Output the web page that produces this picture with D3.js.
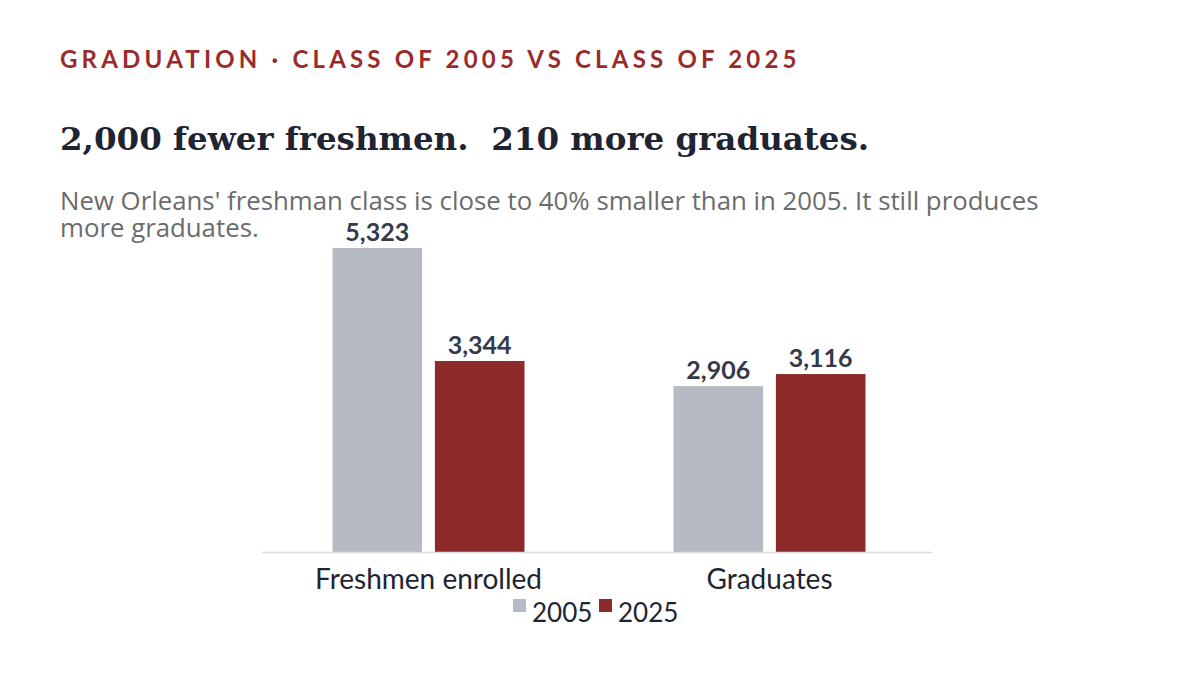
<!DOCTYPE html>
<html>
<head>
<meta charset="utf-8">
<script src="https://cdn.jsdelivr.net/npm/d3@7"></script>
<style>
  body { margin: 0; background: #fff; }
  svg { display: block; }
</style>
</head>
<body>
<svg id="chart" width="1200" height="675"></svg>
<script>
// data
var categories = ['Freshmen enrolled', 'Graduates'];
var years = ['2005', '2025'];
var values2005 = [5323, 2906];
var values2025 = [3344, 3116];
var colors = ['#b6bac3', '#8e2a2a'];

var svg = d3.select('#chart');

// header texts
svg.append('text')
   .attr('x', 60).attr('y', 68)
   .style('font-family', 'Lato, "Open Sans", sans-serif')
   .style('font-weight', 700)
   .style('font-size', '24px')
   .style('letter-spacing', '4.2px')
   .style('fill', '#9a2b2b')
   .text('GRADUATION \u00b7 CLASS OF 2005 VS CLASS OF 2025');

svg.append('text')
   .attr('x', 60).attr('y', 150)
   .style('font-family', '"DejaVu Serif", serif')
   .style('font-weight', 700)
   .style('font-size', '32.5px')
   .style('fill', '#1f2433')
   .text('2,000 fewer freshmen.\u00a0 210 more graduates.');

// subtitle, two lines as in the reference
var subLines = ["New Orleans' freshman class is close to 40% smaller than in 2005. It still produces",
                'more graduates.'];
svg.selectAll('text.sub')
   .data(subLines)
   .enter()
   .append('text')
   .attr('class', 'sub')
   .attr('x', 60)
   .attr('y', function(d, i){ return 210 + i * 27; })
   .style('font-family', '"Open Sans", sans-serif')
   .style('font-size', '25.8px')
   .style('fill', '#6b6b6b')
   .text(function(d){ return d; });

// chart
var baseY = 552;
var rows = categories.map(function(c, i){
  return {cat: c, vals: [values2005[i], values2025[i]]};
});

var x0 = d3.scaleBand()
           .domain(categories)
           .range([258, 940])
           .paddingInner(0)
           .paddingOuter(0);

var x1 = d3.scaleBand()
           .domain(years)
           .range([0, 192])
           .paddingInner(0.125);

var y = d3.scaleLinear()
          .domain([0, d3.max(values2005.concat(values2025))])
          .range([baseY, 248]);

var groups = svg.selectAll('g.group')
   .data(rows)
   .enter()
   .append('g')
   .attr('class', 'group')
   .attr('transform', function(d){
     return 'translate(' + (x0(d.cat) + x0.bandwidth()/2 - 96) + ',0)';
   });

groups.selectAll('rect')
   .data(function(d){ return d.vals.map(function(v, j){ return {year: years[j], v: v, j: j}; }); })
   .enter()
   .append('rect')
   .attr('x', function(d){ return x1(d.year); })
   .attr('y', function(d){ return y(d.v); })
   .attr('width', x1.bandwidth())
   .attr('height', function(d){ return baseY - y(d.v); })
   .style('fill', function(d){ return colors[d.j]; });

groups.selectAll('text.val')
   .data(function(d){ return d.vals.map(function(v, j){ return {year: years[j], v: v}; }); })
   .enter()
   .append('text')
   .attr('class', 'val')
   .attr('x', function(d){ return x1(d.year) + x1.bandwidth()/2; })
   .attr('y', function(d){ return y(d.v) - 7; })
   .attr('text-anchor', 'middle')
   .style('font-family', 'Lato, "Open Sans", sans-serif')
   .style('font-weight', 700)
   .style('font-size', '25px')
   .style('fill', '#333a4a')
   .text(function(d){ return d3.format(',')(d.v); });

// baseline
svg.append('line')
   .attr('x1', 262).attr('x2', 932)
   .attr('y1', baseY + 0.5).attr('y2', baseY + 0.5)
   .style('stroke', '#d9dce2')
   .style('stroke-width', '1.5px');

// category labels
var xAxis = d3.axisBottom(x0).tickSize(0).tickPadding(0);
var ax = svg.append('g')
   .attr('transform', 'translate(0,' + baseY + ')')
   .call(xAxis);
ax.select('.domain').remove();
ax.selectAll('text')
   .attr('dy', null)
   .attr('y', 37)
   .style('font-family', 'Lato, "Open Sans", sans-serif')
   .style('font-size', '28px')
   .style('fill', '#1f2433');

// legend
var legend = svg.append('g').attr('transform', 'translate(513,599)');
var item = legend.selectAll('g')
   .data(years)
   .enter()
   .append('g')
   .attr('transform', function(d, i){ return 'translate(' + (i * 86) + ',0)'; });
item.append('rect')
   .attr('width', 13).attr('height', 13)
   .style('fill', function(d, i){ return colors[i]; });
item.append('text')
   .attr('x', 19).attr('y', 23)
   .style('font-family', 'Lato, "Open Sans", sans-serif')
   .style('font-size', '26px')
   .style('fill', '#1f2433')
   .text(function(d){ return d; });
</script>
</body>
</html>
